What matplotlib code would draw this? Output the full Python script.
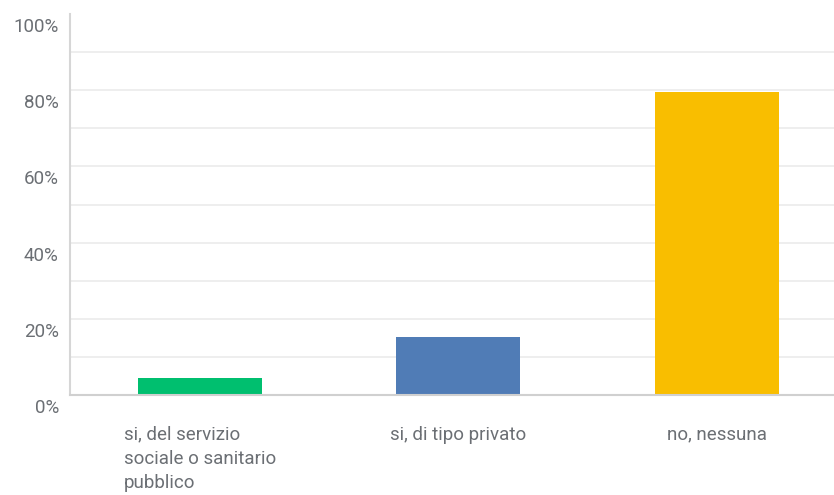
import matplotlib.pyplot as plt
import matplotlib.transforms as mtransforms

categorie = ["si, del servizio\nsociale o sanitario\npubblico", "si, di tipo privato", "no, nessuna"]
percentuali = [4.5, 15.1, 79.4]
colori = ["#00BF6F", "#507CB6", "#F9BE00"]
tick_y = [0, 20, 40, 60, 80, 100]
griglia_y = [10, 20, 30, 40, 50, 60, 70, 80, 90]

plt.rcParams['font.family'] = ['Roboto', 'DejaVu Sans']

fig = plt.figure(figsize=(8.34, 4.95), dpi=100)
ax = fig.add_axes([70 / 834, 1 - 395 / 495, 1 - 70 / 834, (395 - 14) / 495])

for g in griglia_y:
    ax.axhline(g, color="#ebebeb", lw=1.2, zorder=0)

x = list(range(len(categorie)))
ax.bar(x, percentuali, width=0.48, color=colori, zorder=2)

ax.set_xlim(-0.503, 2.453)
ax.set_ylim(0, 100)
ax.set_yticks(tick_y)
ax.set_yticklabels([f"{v}%" for v in tick_y])
ax.set_xticks(x)
ax.set_xticklabels(categorie, multialignment="left", linespacing=1.45)

for s in ["top", "right"]:
    ax.spines[s].set_visible(False)
ax.spines["left"].set_color("#d6d6d6")
ax.spines["bottom"].set_color("#d0d0d0")
ax.spines["left"].set_linewidth(1.5)
ax.spines["bottom"].set_linewidth(1.5)

ax.tick_params(axis="both", length=0, labelsize=13.5, labelcolor="#6b6f74")
ax.tick_params(axis="y", pad=8)
ax.tick_params(axis="x", pad=22)

off = mtransforms.ScaledTranslation(0, -11 / 100, fig.dpi_scale_trans)
for lab in ax.get_yticklabels():
    lab.set_transform(lab.get_transform() + off)
for lab in ax.get_xticklabels():
    lab.set_verticalalignment("top")

fig.savefig("out.png", dpi=100)
